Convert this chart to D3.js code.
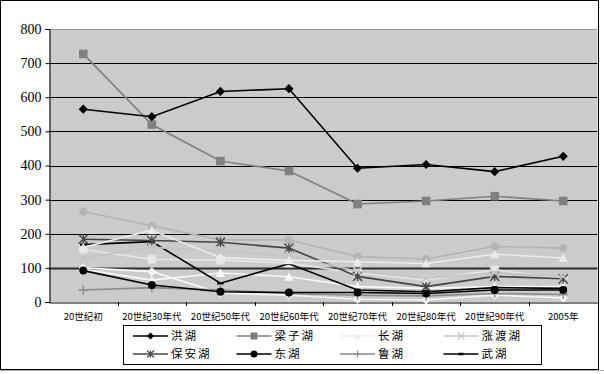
<!DOCTYPE html>
<html>
<head>
<meta charset="utf-8">
<script src="https://cdn.jsdelivr.net/npm/d3@7"></script>
<style>
  body { margin: 0; background: #fff; }
  svg { display: block; }
</style>
</head>
<body>
<svg width="604" height="374"></svg>
<script>
// categories along the x axis
const categories = ['20世纪初', '20世纪30年代', '20世纪50年代', '20世纪60年代', '20世纪70年代', '20世纪80年代', '20世纪90年代', '2005年']
// y axis tick values
const yTicks = [0, 100, 200, 300, 400, 500, 600, 700, 800]

// series shown in the legend
const legendNames = ['洪湖', '梁子湖', '长湖', '涨渡湖', '保安湖', '东湖', '鲁湖', '武湖']
const honghu   = [565, 543, 617, 625, 392, 403, 382, 427]
const liangzi  = [727, 520, 413, 384, 287, 296, 310, 296]
const changhu  = [160, 210, 130, 122, 118, 113, 140, 129]
const zhangdu  = [128, 160, 150, 135, 90, 70, 85, 75]
const baoan    = [184, 180, 175, 158, 75, 45, 75, 68]
const donghu   = [92, 50, 30, 28, 28, 25, 35, 35]
const luhu     = [35, 42, 35, 25, 20, 18, 25, 22]
const wuhu     = [168, 177, 55, 112, 35, 30, 42, 40]
// further series drawn in the plot but cut from the legend
const extra1 = [265, 223, 182, 182, 133, 126, 163, 158]
const extra2 = [100, 89, 26, 20, 8, 6, 20, 12]
const extra3 = [154, 125, 123, 114, 85, 64, 94, 70]
const extra4 = [96, 64, 85, 74, 45, 40, 45, 45]

const seriesValues = [honghu, liangzi, changhu, zhangdu, baoan, donghu, luhu, wuhu]
const extraValues = [extra1, extra2, extra3, extra4]

// look of each series (colour, marker)
const legendStyles = [
  { color: '#000', marker: 'diamond' },
  { color: '#808080', marker: 'square' },
  { color: '#ececec', marker: 'triangle' },
  { color: '#c4c4c4', marker: 'x' },
  { color: '#444', marker: 'star' },
  { color: '#000', marker: 'circle' },
  { color: '#8a8a8a', marker: 'plus' },
  { color: '#000', marker: 'dash' }
]
const extraStyles = [
  { color: '#b4b4b4', marker: 'circle' },
  { color: '#f6f6f6', marker: 'diamond' },
  { color: '#e6e6e6', marker: 'square' },
  { color: '#f8f8f8', marker: 'triangle' }
]

const svg = d3.select('svg')

// chart frame
svg.append('rect')
  .attr('x', 0.5).attr('y', 0.5)
  .attr('width', 598).attr('height', 369)
  .attr('fill', '#fff').attr('stroke', '#000')
svg.append('line')
  .attr('x1', 0).attr('x2', 604).attr('y1', 370.5).attr('y2', 370.5)
  .attr('stroke', '#aaa')

const plot = { left: 49, right: 597.5, top: 29, bottom: 302 }

const x = d3.scaleBand()
  .domain(categories)
  .range([plot.left, plot.right])
  .padding(0)

const y = d3.scaleLinear()
  .domain([0, 800])
  .range([plot.bottom, plot.top])

const cx = d => x(d) + x.bandwidth() / 2

// plot background
svg.append('rect')
  .attr('x', plot.left).attr('y', plot.top)
  .attr('width', plot.right - plot.left).attr('height', plot.bottom - plot.top)
  .attr('fill', '#cbcbcb')

// gridlines
svg.append('g')
  .selectAll('line')
  .data(yTicks.filter(d => d > 0))
  .enter()
  .append('line')
  .attr('x1', plot.left).attr('x2', plot.right)
  .attr('y1', d => Math.round(y(d)) + 0.5).attr('y2', d => Math.round(y(d)) + 0.5)
  .attr('stroke', d => d === 800 ? '#999' : (d === 100 ? '#2a2a2a' : '#000'))
  .attr('stroke-width', d => d === 100 ? 2.2 : 1)

// y axis
const yAxis = d3.axisLeft(y)
  .tickValues(yTicks)
  .tickSize(4)
  .tickPadding(4)
  .tickFormat(d3.format('d'))

svg.append('g')
  .attr('transform', `translate(${plot.left + 0.5}, 0)`)
  .call(yAxis)
  .call(g => g.select('.domain').attr('stroke', '#000'))
  .call(g => g.selectAll('text')
    .attr('font-family', '"Liberation Serif", serif')
    .attr('font-size', 14)
    .attr('fill', '#000'))

// x axis: labels at category centres, ticks at category boundaries
const xAxis = d3.axisBottom(x)
  .tickSize(0)
  .tickPadding(11)

svg.append('g')
  .attr('transform', `translate(0, ${plot.bottom + 0.5})`)
  .call(xAxis)
  .call(g => g.select('.domain').attr('stroke', '#000'))
  .call(g => g.selectAll('text')
    .attr('font-family', '"Noto Sans CJK SC", sans-serif')
    .attr('font-size', 9.5)
    .attr('fill', '#000'))

svg.append('g')
  .selectAll('line')
  .data(categories.slice(1))
  .enter()
  .append('line')
  .attr('x1', d => Math.round(x(d)) + 0.5).attr('x2', d => Math.round(x(d)) + 0.5)
  .attr('y1', plot.bottom).attr('y2', plot.bottom + 4)
  .attr('stroke', '#000')

// marker shapes
const markerPath = (type, r) => {
  switch (type) {
    case 'diamond': return `M0,${-r}L${r},0L0,${r}L${-r},0Z`
    case 'square': return `M${-r},${-r}h${2 * r}v${2 * r}h${-2 * r}Z`
    case 'triangle': return `M0,${-r}L${r},${r * 0.85}L${-r},${r * 0.85}Z`
    case 'circle': return d3.symbol(d3.symbolCircle, Math.PI * r * r)()
    case 'x': return `M${-r},${-r}L${r},${r}M${-r},${r}L${r},${-r}`
    case 'star': return `M${-r},${-r}L${r},${r}M${-r},${r}L${r},${-r}M0,${-r}V${r}`
    case 'plus': return `M${-r},0H${r}M0,${-r}V${r}`
    case 'dash': return `M${-r * 0.7},0H${r * 0.7}`
  }
}
const filled = t => ['diamond', 'square', 'triangle', 'circle'].includes(t)
const markerSize = t => t === 'square' ? 4.3 : (t === 'circle' ? 4 : 4.6)

const line = d3.line()
  .x((d, i) => cx(categories[i]))
  .y(d => y(d))

const drawSeries = (values, style) => {
  const g = svg.append('g')
  g.append('path')
    .attr('d', line(values))
    .attr('fill', 'none')
    .attr('stroke', style.color)
    .attr('stroke-width', 1.6)
  g.selectAll('path.m')
    .data(values)
    .enter()
    .append('path')
    .attr('class', 'm')
    .attr('transform', (d, i) => `translate(${cx(categories[i])}, ${y(d)})`)
    .attr('d', markerPath(style.marker, markerSize(style.marker)))
    .attr('fill', filled(style.marker) ? style.color : 'none')
    .attr('stroke', filled(style.marker) ? 'none' : style.color)
    .attr('stroke-width', style.marker === 'dash' ? 2.5 : 1.4)
}

extraValues.forEach((v, i) => drawSeries(v, extraStyles[i]))
seriesValues.slice().reverse().forEach((v, i) => {
  const k = seriesValues.length - 1 - i
  drawSeries(v, legendStyles[k])
})

// legend
const legend = svg.append('g')
legend.append('rect')
  .attr('x', 123.5).attr('y', 325.5)
  .attr('width', 418).attr('height', 39)
  .attr('fill', '#fff').attr('stroke', '#000')

const items = legend.selectAll('g.item')
  .data(legendNames)
  .enter()
  .append('g')
  .attr('class', 'item')
  .attr('transform', (d, i) => `translate(${133 + (i % 4) * 103.5}, ${336 + Math.floor(i / 4) * 18})`)

items.append('line')
  .attr('x1', 0).attr('x2', 35)
  .attr('stroke', (d, i) => legendStyles[i].color)
  .attr('stroke-width', 1.6)
items.append('path')
  .attr('transform', 'translate(17.5, 0)')
  .attr('d', (d, i) => markerPath(legendStyles[i].marker, 3.5))
  .attr('fill', (d, i) => filled(legendStyles[i].marker) ? legendStyles[i].color : 'none')
  .attr('stroke', (d, i) => filled(legendStyles[i].marker) ? 'none' : legendStyles[i].color)
  .attr('stroke-width', (d, i) => legendStyles[i].marker === 'dash' ? 2.5 : 1.2)
items.append('text')
  .attr('x', 38)
  .attr('dy', '0.36em')
  .attr('font-family', '"Noto Sans CJK SC", sans-serif')
  .attr('font-size', 11.5)
  .attr('letter-spacing', 2)
  .attr('fill', '#000')
  .text(d => d)
</script>
</body>
</html>
